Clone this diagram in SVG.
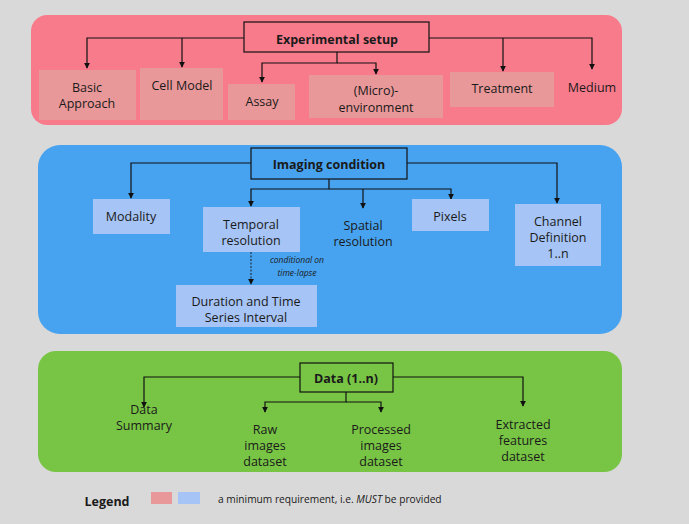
<svg xmlns="http://www.w3.org/2000/svg" width="689" height="524" viewBox="0 0 689 524">
<defs>
<marker id="ah" viewBox="0 0 8 8" refX="7" refY="4" markerWidth="6" markerHeight="6" markerUnits="userSpaceOnUse" orient="auto">
<path d="M0,0 L8,4 L0,8 z" fill="#111"/>
</marker>
<style>
text{font-family:"Open Sans","DejaVu Sans",sans-serif;fill:#1a1a1a;text-anchor:middle;font-size:12.5px}
.t{font-weight:bold;font-size:12.5px}
.pbox{fill:#e99899}
.bbox{fill:#a6c4f5}
.hdr{fill:none;stroke:#111;stroke-width:1.2}
.c{fill:none;stroke:#111;stroke-width:1.2;marker-end:url(#ah)}
.d{fill:none;stroke:#111;stroke-width:0.9;stroke-dasharray:2,1.5;marker-end:url(#ah)}
.it{font-style:italic;font-size:8.5px}
.lg{font-size:10.2px;text-anchor:start}
</style>
</defs>
<rect width="689" height="524" fill="#d9d9d9"/>
<rect x="31" y="15" width="591" height="110" rx="16" fill="#f87b8c"/>
<rect x="38" y="145" width="584" height="189" rx="22" fill="#47a3f0"/>
<rect x="38" y="351" width="584" height="121" rx="18" fill="#78c545"/>

<g id="connectors">
<path class="c" d="M244,38 H87 V68"/>
<path class="c" d="M182,38 V67"/>
<path class="c" d="M337,52 V63 H262 V82"/>
<path class="c" d="M337,63 H376 V74"/>
<path class="c" d="M429,38 H592 V69"/>
<path class="c" d="M503,38 V71"/>
<path class="c" d="M251,163 H131 V198"/>
<path class="c" d="M329,179 V189 H251 V206"/>
<path class="c" d="M329,189 H451 V199"/>
<path class="c" d="M363,189 V208"/>
<path class="c" d="M407,163 H557 V203"/>
<path class="d" d="M251,252 V284"/>
<path class="c" d="M300,377 H144 V407"/>
<path class="c" d="M393,377 H523 V406"/>
<path class="c" d="M346,392 V402 H265 V412"/>
<path class="c" d="M346,402 H381 V412"/>
</g>

<g id="experimental-setup"><rect class="hdr" x="244" y="22" width="185" height="30"/><text class="t" x="337" y="44">Experimental setup</text></g>
<g id="basic-approach"><rect class="pbox" x="39" y="70" width="97" height="50"/><text x="87" y="92">Basic</text><text x="87" y="108">Approach</text></g>
<g id="cell-model"><rect class="pbox" x="140" y="68" width="83" height="52"/><text x="182" y="90">Cell Model</text></g>
<g id="assay"><rect class="pbox" x="228" y="84" width="67" height="36"/><text x="262" y="106">Assay</text></g>
<g id="micro-environment"><rect class="pbox" x="309" y="75" width="134" height="43"/><text x="376" y="95">(Micro)-</text><text x="376" y="112">environment</text></g>
<g id="treatment"><rect class="pbox" x="450" y="72" width="104" height="35"/><text x="502" y="93">Treatment</text></g>
<g id="medium"><text x="592" y="92">Medium</text></g>

<g id="imaging-condition"><rect class="hdr" x="251" y="148" width="156" height="31"/><text class="t" x="329" y="169">Imaging condition</text></g>
<g id="modality"><rect class="bbox" x="93" y="199" width="77" height="35"/><text x="131" y="221">Modality</text></g>
<g id="temporal-resolution"><rect class="bbox" x="203" y="207" width="97" height="45"/><text x="251" y="229">Temporal</text><text x="251" y="245">resolution</text></g>
<g id="spatial-resolution"><text x="363" y="230">Spatial</text><text x="363" y="246">resolution</text></g>
<g id="pixels"><rect class="bbox" x="412" y="199" width="77" height="32"/><text x="450" y="221">Pixels</text></g>
<g id="channel-definition"><rect class="bbox" x="515" y="204" width="86" height="62"/><text x="558" y="226">Channel</text><text x="558" y="242">Definition</text><text x="558" y="258">1..n</text></g>
<g id="duration"><rect class="bbox" x="176" y="285" width="141" height="42"/><text x="246" y="306">Duration and Time</text><text x="246" y="322">Series Interval</text></g>
<g id="conditional-label"><text class="it" x="297" y="263">conditional on</text><text class="it" x="297" y="276">time-lapse</text></g>

<g id="data"><rect class="hdr" x="300" y="363" width="93" height="29"/><text class="t" x="346" y="383">Data (1..n)</text></g>
<g id="data-summary"><text x="144" y="414">Data</text><text x="144" y="430">Summary</text></g>
<g id="raw-images"><text x="265" y="434">Raw</text><text x="265" y="450">images</text><text x="265" y="466">dataset</text></g>
<g id="processed-images"><text x="381" y="434">Processed</text><text x="381" y="450">images</text><text x="381" y="466">dataset</text></g>
<g id="extracted-features"><text x="523" y="429">Extracted</text><text x="523" y="445">features</text><text x="523" y="461">dataset</text></g>

<g id="legend">
<text class="t" x="107" y="506">Legend</text>
<rect x="151" y="492" width="21" height="12" fill="#e99899"/>
<rect x="178" y="492" width="22" height="12" fill="#a6c4f5"/>
<text class="lg" x="218" y="503">a minimum requirement, i.e. <tspan font-style="italic">MUST</tspan> be provided</text>
</g>
</svg>
